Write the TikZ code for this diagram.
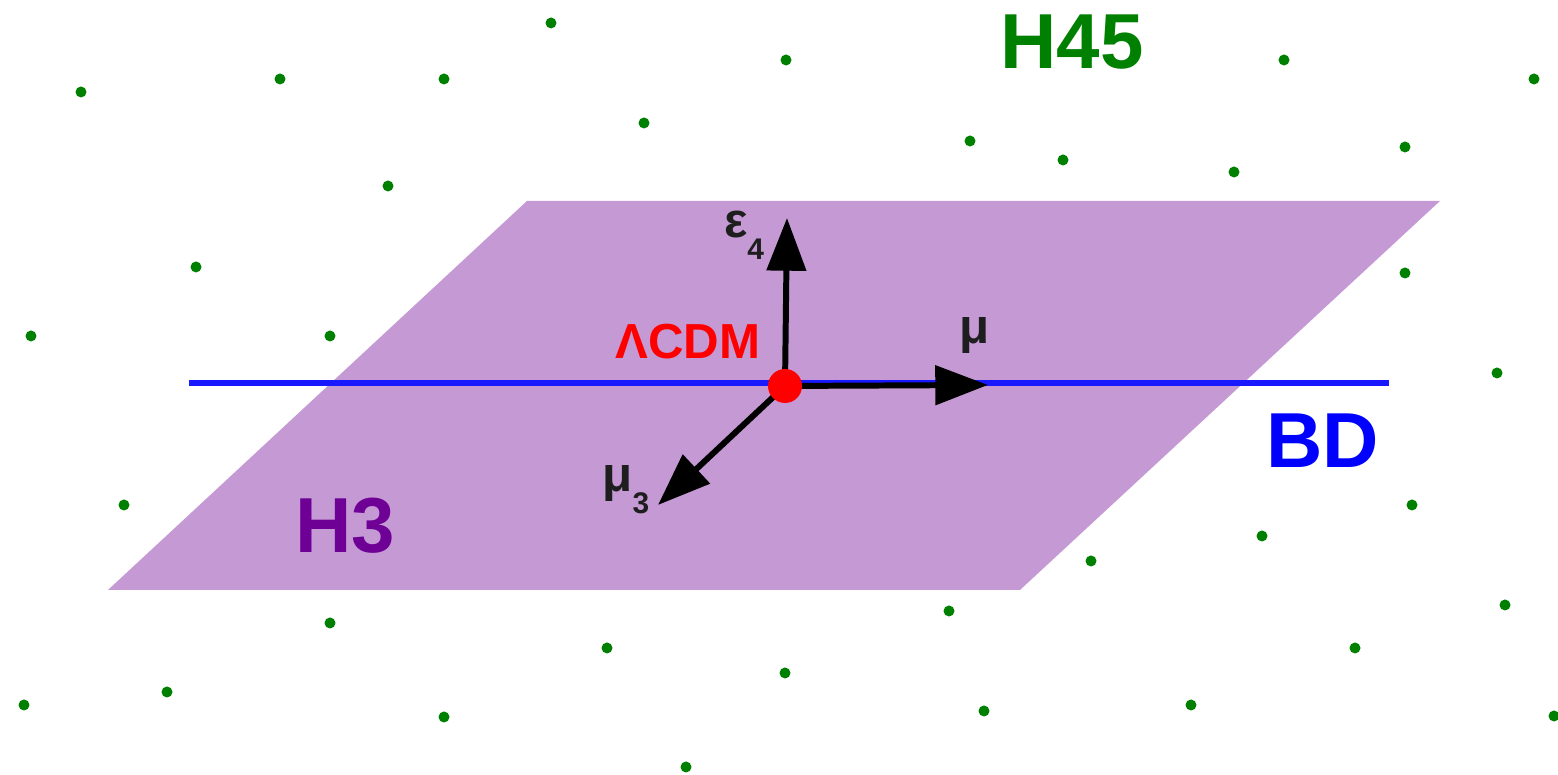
\documentclass[tikz,border=0pt]{standalone}
\usepackage{fontspec}
\setmainfont{Liberation Sans}
\usepackage{xcolor}
\usetikzlibrary{arrows.meta,calc,positioning}
\definecolor{planefill}{RGB}{196,153,212}
\definecolor{dotgreen}{RGB}{0,128,0}
\definecolor{hthree}{RGB}{110,0,150}
\definecolor{bdblue}{RGB}{0,0,255}
\definecolor{linkblue}{RGB}{25,25,255}
\definecolor{lblgray}{RGB}{30,30,30}
\newcommand{\lowsub}[1]{\raisebox{-6.3pt}{\fontsize{8.5}{9}\selectfont #1}}

\begin{document}
\begin{tikzpicture}[
    dirarrow/.style={line width=1.7pt,-{Triangle[length=15pt,width=11pt]}},
    biglbl/.style={font=\fontsize{22.2}{24}\selectfont\bfseries},
    smalllbl/.style={font=\fontsize{14}{16}\selectfont\bfseries,text=lblgray}]
  \useasboundingbox (0,0) rectangle (15.58,7.75);
  % H45 points
  \foreach \p in {(5.51,7.52),(7.86,7.15),(12.84,7.15),(0.81,6.83),(2.80,6.96),
      (4.44,6.96),(15.34,6.96),(6.44,6.52),(9.70,6.34),(10.63,6.15),(14.05,6.28),
      (12.34,6.03),(3.88,5.89),(1.96,5.08),(14.05,5.02),(0.31,4.39),(3.30,4.39),
      (14.97,4.02),(1.24,2.70),(14.12,2.70),(12.62,2.39),(10.91,2.14),(15.05,1.70),
      (9.49,1.64),(3.30,1.52),(6.07,1.27),(13.55,1.27),(7.85,1.02),(1.67,0.83),
      (0.24,0.70),(11.91,0.70),(9.84,0.64),(4.44,0.58),(15.54,0.59),(6.86,0.08)}
    \fill[dotgreen] \p circle (0.055);
  % H3 plane
  \fill[planefill] (5.27,5.74) -- (14.40,5.74) -- (10.20,1.85) -- (1.08,1.85) -- cycle;
  % BD line
  \coordinate (bdl) at (1.89,3.92);
  \coordinate (bdr) at (13.89,3.92);
  \draw[linkblue,line width=1.45pt] (bdl) -- (bdr);
  % directions
  \coordinate (o) at (7.85,3.89);
  \coordinate (eps) at (7.87,5.57);
  \coordinate (mu) at (9.88,3.90);
  \coordinate (muthree) at (6.58,2.70);
  \draw[dirarrow] (o) -- (eps);
  \draw[dirarrow] (o) -- (mu);
  \draw[dirarrow] (o) -- (muthree);
  \node[circle,fill=red,inner sep=0pt,minimum size=0.34cm] (lcdm) at (o) {};
  % labels
  \node[smalllbl] (epslbl) at (7.44,5.40) {ε\lowsub{4}};
  \node[smalllbl] (mulbl) at (9.75,4.39) {μ};
  \node[smalllbl] (muthreelbl) at (6.26,2.85) {μ\lowsub{3}};
  \node[font=\fontsize{14}{16}\selectfont\bfseries,text=red] (lcdmlbl) at (6.88,4.33) {ΛCDM};
  \node[biglbl,text=dotgreen] (hfflbl) at (10.72,7.33) {H45};
  \node[biglbl,text=bdblue] (bdlbl) at (13.23,3.34) {BD};
  \node[biglbl,text=hthree] (hthreelbl) at (3.45,2.49) {H3};
\end{tikzpicture}
\end{document}
